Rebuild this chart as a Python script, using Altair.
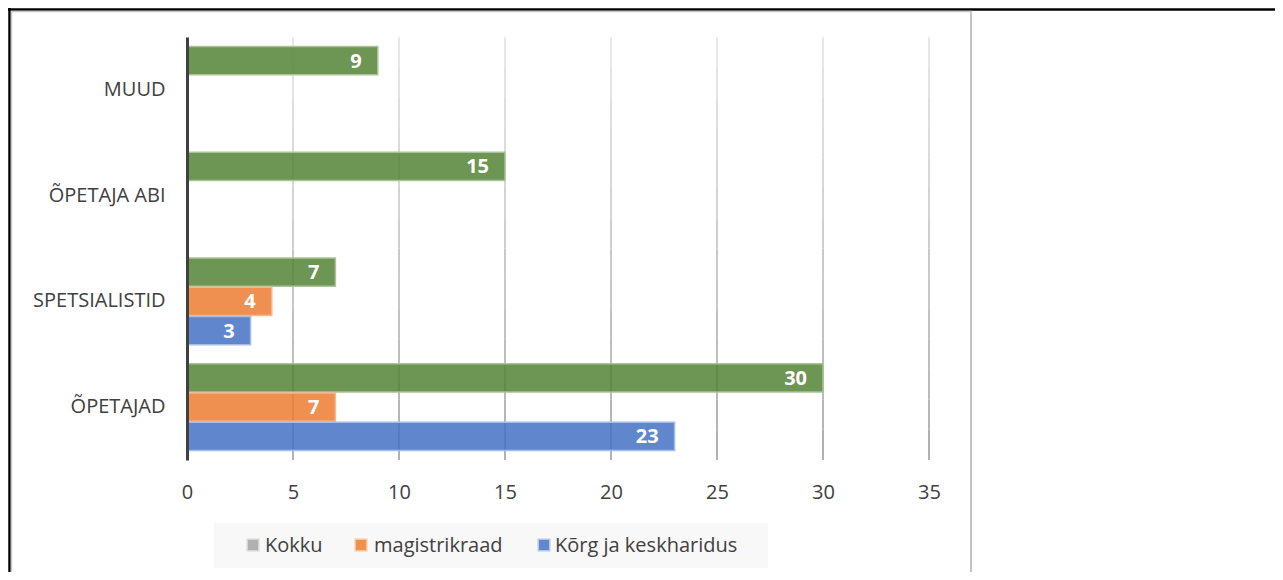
import altair as alt
import pandas as pd

# ---- data ----
categories = ["MUUD", "ÕPETAJA ABI", "SPETSIALISTID", "ÕPETAJAD"]
series = ["Kokku", "magistrikraad", "Kõrg ja keskharidus"]
kokku = [9, 15, 7, 30]
magistrikraad = [None, None, 4, 7]
korg_kesk = [None, None, 3, 23]
tick_values = [0, 5, 10, 15, 20, 25, 30, 35]

# ---- styles ----
FONT = "Open Sans"
TEXT = "#404040"
bar_fill = ["#548235", "#ED7D31", "#4472C4"]
bar_stroke = ["#a9c497", "#f6b78c", "#a7bce4"]
legend_fill = ["#b0b0b0", "#f0904f", "#6088cc"]
legend_stroke = ["#d6d6d6", "#f8c29c", "#b2c6ea"]

rows = []
for cat, a, b, c in zip(categories, kokku, magistrikraad, korg_kesk):
    for s, v in zip(series, [a, b, c]):
        if v is not None:
            rows.append({"category": cat, "series": s, "value": v})
df = pd.DataFrame(rows)

W, H = 742, 423
x_scale = alt.Scale(domain=[0, 35], nice=False, zero=True)
x_axis = alt.Axis(values=tick_values, grid=False, domain=False, ticks=False,
                  labelFontSize=20, labelColor=TEXT, labelFont=FONT,
                  labelPadding=22, labelFlush=False, title=None)

# gradient-looking grid (light at top, darker at bottom)
N = 14
grid_rows = []
for t in tick_values[1:]:
    for k in range(N):
        grid_rows.append({"t": t, "top": k, "bot": k + 1, "shade": k})
grid_df = pd.DataFrame(grid_rows)

grid = alt.Chart(grid_df).mark_rule(strokeWidth=1.5).encode(
    x=alt.X("t:Q", scale=x_scale, axis=x_axis),
    y=alt.Y("top:Q", scale=alt.Scale(domain=[0, N], reverse=True), axis=None),
    y2="bot:Q",
    color=alt.Color("shade:Q", scale=alt.Scale(domain=[0, N - 1], range=["#e0e0e0", "#999999"]), legend=None),
)

y_enc = alt.Y("category:N", sort=categories,
              scale=alt.Scale(paddingInner=0, paddingOuter=0),
              axis=alt.Axis(title=None, ticks=False, domainColor=TEXT, domainWidth=3,
                            labelFontSize=20, labelColor=TEXT, labelFont=FONT,
                            labelPadding=22, zindex=1))
yoff_enc = alt.YOffset("series:N", sort=series,
                       scale=alt.Scale(domain=series, paddingInner=0.03, paddingOuter=0.33))

bars = alt.Chart(df).mark_bar(fillOpacity=0.85, strokeWidth=1.5).encode(
    x=alt.X("value:Q", scale=x_scale, axis=x_axis),
    y=y_enc,
    yOffset=yoff_enc,
    color=alt.Color("series:N", scale=alt.Scale(domain=series, range=bar_fill), legend=None),
    stroke=alt.Stroke("series:N", scale=alt.Scale(domain=series, range=bar_stroke), legend=None),
)

labels = alt.Chart(df).mark_text(align="right", baseline="middle", dx=-16, dy=1,
                                 color="white", fontWeight="bold", fontSize=20, font=FONT).encode(
    x=alt.X("value:Q", scale=x_scale, axis=x_axis),
    y=y_enc,
    yOffset=yoff_enc,
    text="value:Q",
)

bar_block = alt.layer(bars, labels)

# ---- custom legend ----
swatch_x = [66, 174, 357]
text_x = [78, 187, 368]
leg_df = pd.DataFrame({"name": series, "sx": swatch_x, "tx": text_x})
one = pd.DataFrame({"a": [0]})

leg_bg = alt.Chart(one).mark_rect(color="#f8f8f8").encode(
    x=alt.value(27), x2=alt.value(581), y=alt.value(486), y2=alt.value(531))
leg_sw = alt.Chart(leg_df).mark_square(size=130, opacity=1, strokeWidth=1.5).encode(
    x=alt.X("sx:Q", scale=None), y=alt.value(508),
    color=alt.Color("name:N", scale=alt.Scale(domain=series, range=legend_fill), legend=None),
    stroke=alt.Stroke("name:N", scale=alt.Scale(domain=series, range=legend_stroke), legend=None),
)
leg_tx = alt.Chart(leg_df).mark_text(align="left", baseline="middle", fontSize=20, font=FONT,
                                     color=TEXT).encode(
    x=alt.X("tx:Q", scale=None), y=alt.value(509), text="name:N")

# ---- frame lines ----
black_left = alt.Chart(one).mark_rule(color="black", strokeWidth=2.5).encode(
    x=alt.value(-177.5), y=alt.value(-29), y2=alt.value(543))
black_top = alt.Chart(one).mark_rule(color="black", strokeWidth=2.5).encode(
    y=alt.value(-27.5), x=alt.value(-179), x2=alt.value(1096))
grey_left = alt.Chart(one).mark_rule(color="#c8c8c8", strokeWidth=1.5).encode(
    x=alt.value(-175.5), y=alt.value(-26), y2=alt.value(543))
grey_top = alt.Chart(one).mark_rule(color="#c8c8c8", strokeWidth=1.5).encode(
    y=alt.value(-25.5), x=alt.value(-176), x2=alt.value(785))
grey_right = alt.Chart(one).mark_rule(color="#c4c4c4", strokeWidth=2).encode(
    x=alt.value(784), y=alt.value(-26), y2=alt.value(543))

chart = alt.layer(
    grid, bar_block, leg_bg, leg_sw, leg_tx,
    black_left, black_top, grey_left, grey_top, grey_right,
).resolve_scale(
    y="independent", color="independent", stroke="independent"
).properties(
    width=W, height=H,
    background="white",
    padding={"left": 179, "top": 29, "right": 346, "bottom": 112},
    autosize=alt.AutoSizeParams(type="none"),
).configure_view(stroke=None, strokeWidth=0)

chart.save("out.html", embed_options={"renderer": "svg", "actions": False})
